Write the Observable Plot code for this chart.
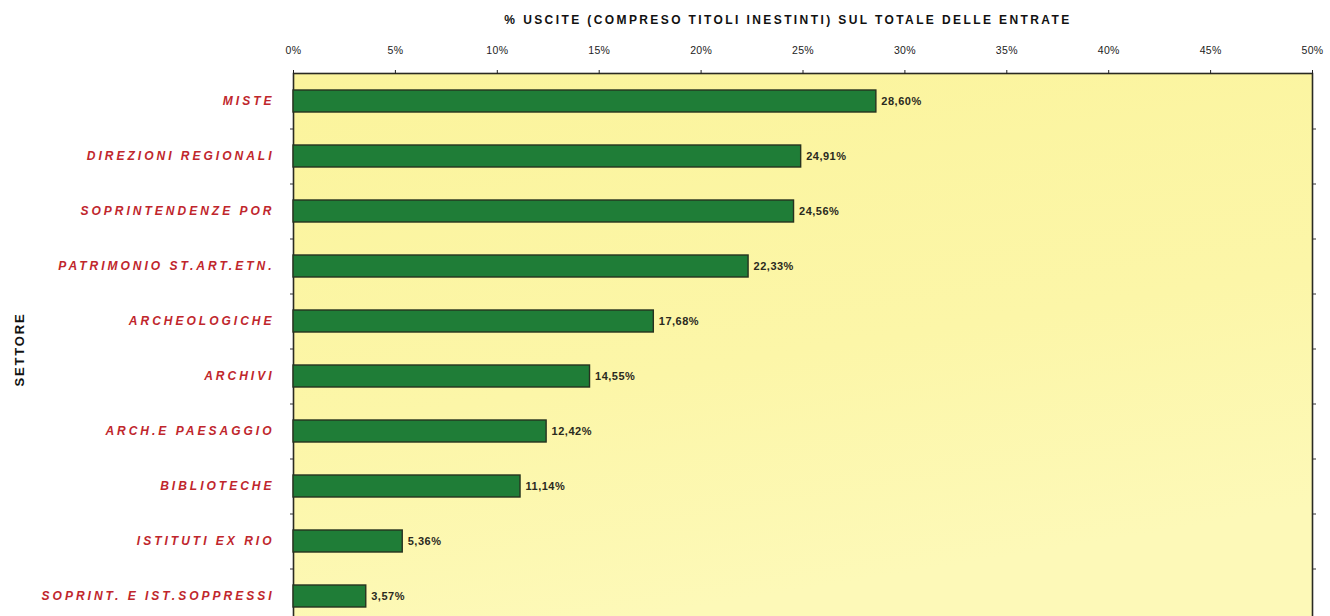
<!DOCTYPE html>
<html>
<head>
<meta charset="utf-8">
<script src="https://cdn.jsdelivr.net/npm/d3@7"></script>
<script src="https://cdn.jsdelivr.net/npm/@observablehq/plot@0.6"></script>
<style>
  html, body { margin: 0; padding: 0; background: #ffffff; overflow: hidden; }
  #wrap { width: 1330px; height: 616px; overflow: hidden; position: relative; }
  #wrap svg { display: block; }
</style>
</head>
<body>
<div id="wrap"></div>
<script>
const categories = [
  "MISTE",
  "DIREZIONI REGIONALI",
  "SOPRINTENDENZE POR",
  "PATRIMONIO ST.ART.ETN.",
  "ARCHEOLOGICHE",
  "ARCHIVI",
  "ARCH.E PAESAGGIO",
  "BIBLIOTECHE",
  "ISTITUTI EX RIO",
  "SOPRINT. E IST.SOPPRESSI"
];
const values = [28.60, 24.91, 24.56, 22.33, 17.68, 14.55, 12.42, 11.14, 5.36, 3.57];
const xTicks = [0, 5, 10, 15, 20, 25, 30, 35, 40, 45, 50];
const titleText = "% USCITE (COMPRESO TITOLI INESTINTI) SUL TOTALE DELLE ENTRATE";
const yTitle = "SETTORE";

const data = categories.map((c, i) => ({ cat: c, val: values[i] }));
const fmt = v => v.toFixed(2).replace(".", ",") + "%";

const chart = Plot.plot({
  width: 1330,
  height: 640,
  marginTop: 73,
  marginLeft: 293,
  marginRight: 18,
  marginBottom: 17,
  style: { fontFamily: "'Liberation Sans', Arial, sans-serif", background: "transparent", overflow: "visible" },
  x: { domain: [0, 50], label: null },
  y: { domain: categories, paddingInner: 0.6, paddingOuter: 0.3, label: null },
  marks: [
    Plot.frame({ fill: "#fcf6a4", stroke: "#2a2a22", strokeWidth: 1.6 }),
    Plot.axisY({ anchor: "left", tickSize: 3, tickFormat: () => "", dy: 27.5, stroke: "#333", label: null }),
    Plot.axisY({ anchor: "right", tickSize: 3, tickFormat: () => "", dy: 27.5, stroke: "#333", label: null }),
    Plot.barX(data, { x: "val", y: "cat", fill: "#1f7d37", stroke: "#26321f", strokeWidth: 1.4 }),
    Plot.text(data, {
      x: "val", y: "cat", text: d => fmt(d.val), textAnchor: "start", dx: 5,
      fontSize: 11, fontWeight: "bold", fill: "#2a2a1e"
    }),
    Plot.axisX({
      anchor: "top", ticks: xTicks, tickFormat: d => d + "%", tickSize: 4, tickPadding: 16,
      fontSize: 10.5, stroke: "#222", fill: "#222", label: null
    }),
    Plot.axisY({
      anchor: "left", tickSize: 0, tickPadding: 19, fontSize: 12, fontWeight: "bold",
      fontStyle: "italic", fill: "#c0262c", label: null
    }),
    Plot.text([titleText], {
      frameAnchor: "top", dx: -15, dy: -53, fontSize: 12, fontWeight: "bold",
      fill: "#111", lineAnchor: "middle", textAnchor: "middle"
    }),
    Plot.text([yTitle], {
      frameAnchor: "left", dx: -274, dy: 1, rotate: -90, fontSize: 13, fontWeight: "900",
      fill: "#111", lineAnchor: "middle", textAnchor: "middle"
    })
  ]
});

// Letter spacing tweaks to mimic the scanned typography
chart.querySelectorAll('[aria-label="y-axis tick label"] text').forEach(t => t.style.letterSpacing = "3px");
chart.querySelectorAll('[aria-label="x-axis tick label"] text').forEach(t => t.style.letterSpacing = "0.3px");
chart.querySelectorAll('[aria-label="text"] text').forEach(t => {
  if (t.textContent === titleText) t.style.letterSpacing = "2.4px";
  else if (t.textContent === yTitle) t.style.letterSpacing = "1.8px";
  else t.style.letterSpacing = "0.5px";
});

// Soft yellow gradient background for the plotting frame
const ns = "http://www.w3.org/2000/svg";
const defs = document.createElementNS(ns, "defs");
defs.innerHTML = `<linearGradient id="bgGrad" x1="0" y1="0" x2="0.3" y2="1">
  <stop offset="0%" stop-color="#fbf49c"/>
  <stop offset="60%" stop-color="#fcf6a8"/>
  <stop offset="100%" stop-color="#fdf9b8"/>
</linearGradient>`;
chart.insertBefore(defs, chart.firstChild);
const frameEl = chart.querySelector('[aria-label="frame"]');
if (frameEl) {
  (frameEl.tagName === "rect" ? [frameEl] : frameEl.querySelectorAll("rect")).forEach(r => r.setAttribute("fill", "url(#bgGrad)"));
}

document.getElementById("wrap").appendChild(chart);
</script>
</body>
</html>
